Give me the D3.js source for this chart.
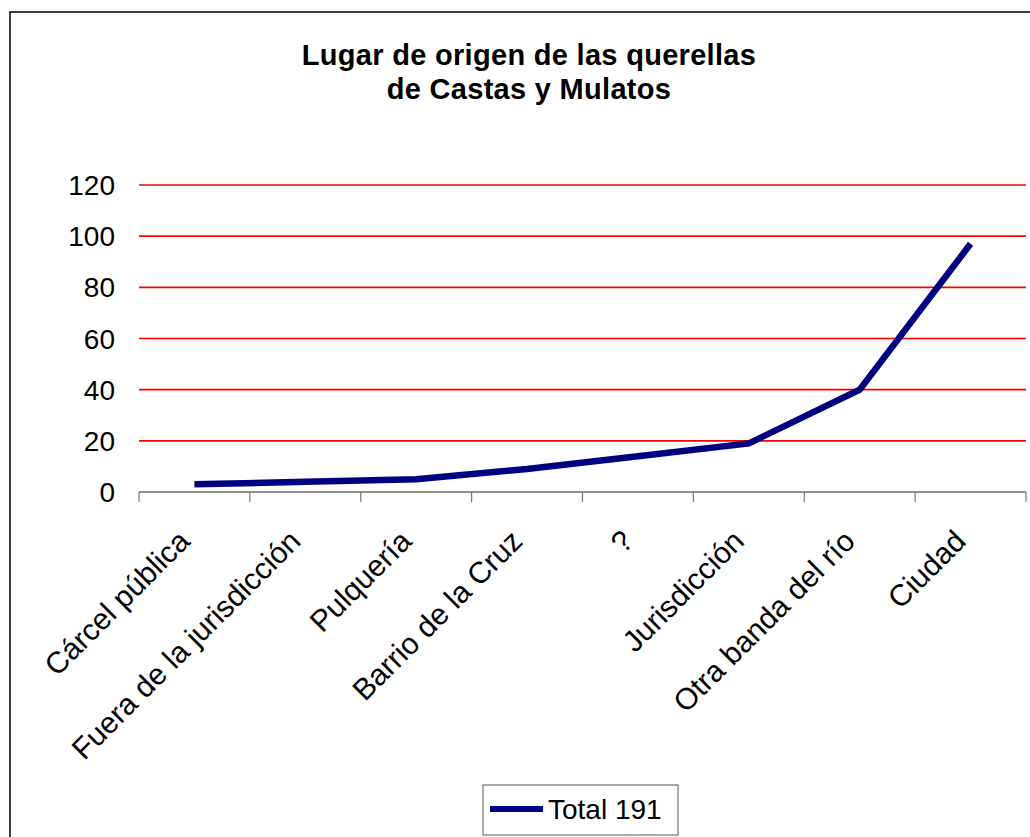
<!DOCTYPE html>
<html>
<head>
<meta charset="utf-8">
<script src="https://cdn.jsdelivr.net/npm/d3@7"></script>
<style>
  html, body { margin: 0; padding: 0; background: #fff; }
  svg { display: block; font-family: "Liberation Sans", Arial, sans-serif; }
</style>
</head>
<body>
<svg id="chart" width="1030" height="837"></svg>
<script>
// Origin of complaints, castas and mulatos
const categories = [
  "Cárcel pública",
  "Fuera de la jurisdicción",
  "Pulquería",
  "Barrio de la Cruz",
  "?",
  "Jurisdicción",
  "Otra banda del río",
  "Ciudad"
];
const totals = [3, 4, 5, 9, 14, 19, 40, 97];
const yTicks = [0, 20, 40, 60, 80, 100, 120];
const titleLines = ["Lugar de origen de las querellas", "de Castas y Mulatos"];
const seriesName = "Total 191";

const svg = d3.select("#chart");

// outer frame of the chart area
svg.append("rect")
  .attr("x", 10).attr("y", 12)
  .attr("width", 1060).attr("height", 860)
  .attr("fill", "none").attr("stroke", "#000").attr("stroke-width", 1.5);

const plot = { left: 139, right: 1026, top: 185, bottom: 492 };

const x = d3.scaleBand().domain(categories).range([plot.left, plot.right]).padding(0);
const y = d3.scaleLinear().domain([0, 120]).range([plot.bottom, plot.top]);

// title
svg.append("text")
  .attr("text-anchor", "middle")
  .attr("font-weight", "bold")
  .attr("font-size", 29)
  .attr("letter-spacing", 0.3)
  .selectAll("tspan")
  .data(titleLines)
  .join("tspan")
  .attr("x", 529)
  .attr("y", (d, i) => 65 + i * 34)
  .text(d => d);

// horizontal gridlines
svg.append("g")
  .selectAll("line")
  .data(yTicks.filter(v => v > 0))
  .join("line")
  .attr("x1", plot.left).attr("x2", plot.right)
  .attr("y1", d => y(d)).attr("y2", d => y(d))
  .attr("stroke", "#ff0000").attr("stroke-width", 1.6);

// y tick labels
svg.append("g")
  .selectAll("text")
  .data(yTicks)
  .join("text")
  .attr("x", 115)
  .attr("y", d => y(d))
  .attr("dy", "0.36em")
  .attr("text-anchor", "end")
  .attr("font-size", 28)
  .attr("fill", "#000")
  .text(d => d);

// category axis: baseline and ticks at band boundaries
const bounds = categories.map(c => x(c)).concat([x(categories[categories.length - 1]) + x.bandwidth()]);
svg.append("line")
  .attr("x1", plot.left).attr("x2", plot.right)
  .attr("y1", y(0)).attr("y2", y(0))
  .attr("stroke", "#222").attr("stroke-width", 1.2);
svg.append("g")
  .selectAll("line")
  .data(bounds)
  .join("line")
  .attr("x1", d => d).attr("x2", d => d)
  .attr("y1", y(0)).attr("y2", y(0) + 10)
  .attr("stroke", "#777").attr("stroke-width", 1.2);

// rotated category labels
svg.append("g")
  .selectAll("text")
  .data(categories)
  .join("text")
  .attr("transform", d => `translate(${x(d) + x.bandwidth() / 2 - 3},${543}) rotate(-45)`)
  .attr("text-anchor", "end")
  .attr("font-size", 30)
  .attr("fill", "#000")
  .text(d => d);

// series line
const line = d3.line()
  .x((d, i) => x(categories[i]) + x.bandwidth() / 2)
  .y(d => y(d));
svg.append("path")
  .datum(totals)
  .attr("d", line)
  .attr("fill", "none")
  .attr("stroke", "#000080")
  .attr("stroke-width", 6.5)
  .attr("stroke-linejoin", "miter");

// legend
const lg = svg.append("g");
lg.append("rect")
  .attr("x", 483).attr("y", 785)
  .attr("width", 195).attr("height", 50)
  .attr("fill", "#fff").attr("stroke", "#555").attr("stroke-width", 1);
lg.append("line")
  .attr("x1", 490).attr("x2", 543)
  .attr("y1", 809).attr("y2", 809)
  .attr("stroke", "#000080").attr("stroke-width", 6);
lg.append("text")
  .attr("x", 548).attr("y", 819)
  .attr("font-size", 28)
  .attr("fill", "#000")
  .text(seriesName);
</script>
</body>
</html>
